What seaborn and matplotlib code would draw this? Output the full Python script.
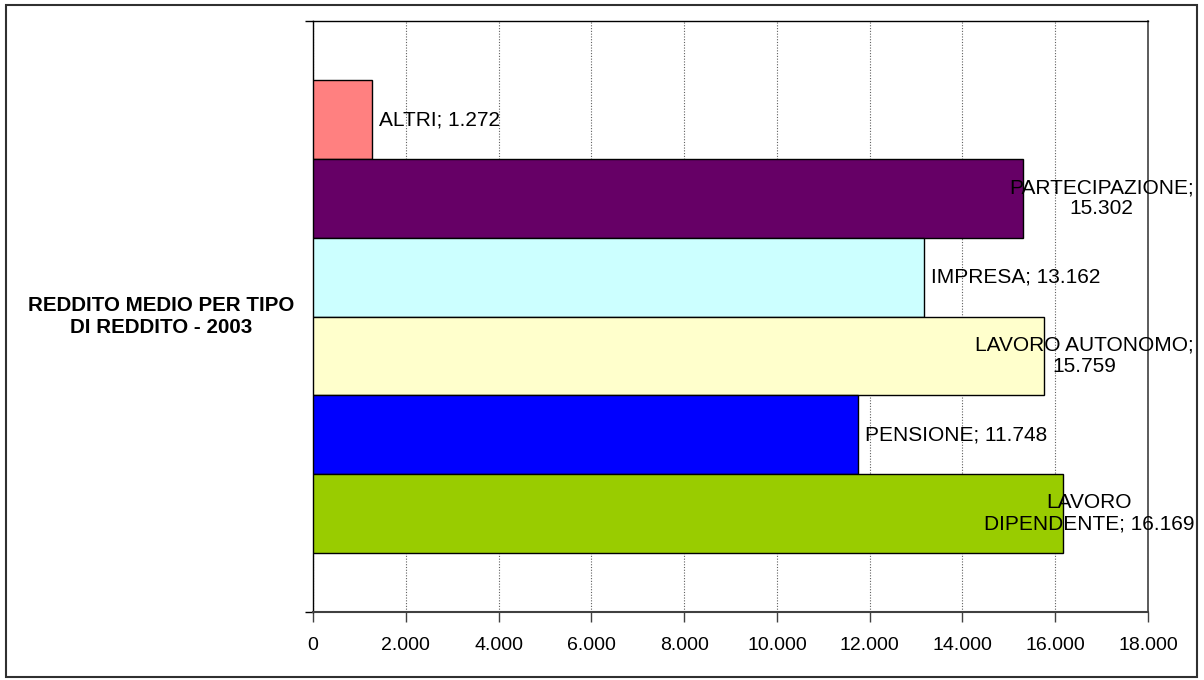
import matplotlib
matplotlib.use("Agg")
import matplotlib.pyplot as plt
import matplotlib.transforms as mtransforms
from matplotlib.patches import Rectangle
from matplotlib.ticker import FuncFormatter
import pandas as pd
import seaborn as sns

# Average income by income type, 2003
categoria = "REDDITO MEDIO PER TIPO\nDI REDDITO - 2003"
tipi = ["ALTRI", "PARTECIPAZIONE", "IMPRESA", "LAVORO AUTONOMO",
        "PENSIONE", "LAVORO DIPENDENTE"]
valori = [1272, 15302, 13162, 15759, 11748, 16169]
colori = ["#FF8080", "#660066", "#CCFFFF", "#FFFFCC", "#0000FF", "#99CC00"]
# labels that wrap onto two lines
etichette_a_capo = {
    "PARTECIPAZIONE": "PARTECIPAZIONE;\n{v}",
    "LAVORO AUTONOMO": "LAVORO AUTONOMO;\n{v}",
    "LAVORO DIPENDENTE": "LAVORO\nDIPENDENTE; {v}",
}
x_ticks = list(range(0, 18001, 2000))


def fmt_it(v):
    return f"{int(v):,}".replace(",", ".")


sns.set_style("white")
plt.rcParams["font.family"] = ["Liberation Sans", "DejaVu Sans"]
plt.rcParams["text.color"] = "black"
plt.rcParams["xtick.labelcolor"] = "black"

df = pd.DataFrame({"categoria": ["c"] * len(tipi), "tipo": tipi, "valore": valori})

W, H = 1204, 680
fig = plt.figure(figsize=(W / 100, H / 100), dpi=100)
ax = fig.add_axes([313 / W, 1 - 612 / H, (1148 - 313) / W, (612 - 21) / H])

sns.barplot(data=df, y="categoria", x="valore", hue="tipo", hue_order=tipi,
            palette=dict(zip(tipi, colori)), saturation=1, orient="h",
            edgecolor="black", linewidth=1.0, width=0.8, legend=False,
            errorbar=None, ax=ax, zorder=3)

ax.set_xlim(0, 18000)
ax.set_ylim(0.5, -0.5)
ax.set_xticks(x_ticks)
ax.xaxis.set_major_formatter(FuncFormatter(lambda v, p: fmt_it(v)))
ax.tick_params(axis="x", direction="out", length=7, width=1, color="#404040",
               labelsize=14, labelcolor="black", pad=11, bottom=True)
ax.set_yticks([-0.5, 0.5])
ax.set_yticklabels([])
ax.tick_params(axis="y", direction="out", length=6, width=1, color="black", left=True)
ax.set_xlabel("")
ax.set_ylabel("")

ax.grid(axis="x", linestyle=(0, (1, 1.5)), color="#606060", linewidth=0.8, zorder=0)
ax.grid(axis="y", visible=False)
for side in ["left", "top"]:
    ax.spines[side].set_color("black")
    ax.spines[side].set_linewidth(1.0)
ax.spines["right"].set_color("#404040")
ax.spines["right"].set_linewidth(1.2)
ax.spines["bottom"].set_color("#404040")
ax.spines["bottom"].set_linewidth(1.5)

# Category label on the left
blend = mtransforms.blended_transform_factory(fig.transFigure, ax.transData)
ax.text(161 / W, 0, categoria, transform=blend, ha="center", va="center",
        multialignment="center", fontsize=14.8, fontweight="bold",
        linespacing=1.15, color="black")

# Data labels
for cont, tipo, v in zip(ax.containers, tipi, valori):
    bar = cont.patches[0]
    yc = bar.get_y() + bar.get_height() / 2
    testo = f"{tipo}; {fmt_it(v)}"
    if tipo in etichette_a_capo:
        testo = etichette_a_capo[tipo].format(v=fmt_it(v))
        ax.text(1194 / W, yc, testo, transform=blend, ha="right", va="center",
                multialignment="center", fontsize=15, linespacing=1.15,
                color="black", zorder=5)
    else:
        ax.annotate(testo, xy=(bar.get_width(), yc), xytext=(5, 0),
                    textcoords="offset points", ha="left", va="center",
                    fontsize=15, color="black", zorder=5)

# Chart frame
fig.patches.append(Rectangle((6 / W, 1 - 677 / H), (1197 - 6) / W, (677 - 5) / H,
                             transform=fig.transFigure, fill=False,
                             edgecolor="#303030", linewidth=1.5))

fig.savefig("out.png", dpi=100)
